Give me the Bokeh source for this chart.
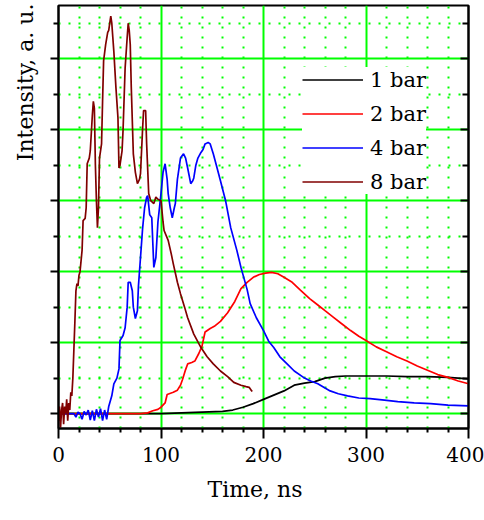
from bokeh.plotting import figure
from bokeh.models import (Range1d, FixedTicker, LinearAxis, Legend, LegendItem, Title,
                          CustomJSTickFormatter)
from bokeh.embed import file_html
from bokeh.resources import INLINE

# ---------------- data ----------------
x_ticks = [0, 100, 200, 300, 400]
x_minor = [v for v in range(0, 401, 20) if v % 100 != 0]
y_ticks = [0, 1, 2, 3, 4, 5]
y_minor = [0.5, 1.5, 2.5, 3.5, 4.5, 5.5]

series_names = ["1 bar", "2 bar", "4 bar", "8 bar"]
series_colors = ["#000000", "#FF0000", "#0000FF", "#800000"]

t_1bar = [0, 100, 120, 140, 160, 170, 180, 190, 200, 210, 220, 230, 240, 250,
          260, 270, 280, 300, 320, 340, 360, 380, 390, 400]
i_1bar = [0, 0, 0.01, 0.02, 0.03, 0.05, 0.09, 0.14, 0.20, 0.26, 0.32, 0.40, 0.43, 0.45,
          0.50, 0.52, 0.53, 0.53, 0.53, 0.52, 0.52, 0.51, 0.50, 0.49]

t_2bar = [0, 60, 80, 87, 92, 97, 100, 104, 106, 112, 116, 119, 121, 124, 126, 130, 133,
          137, 140, 143, 148, 152, 158, 165, 172, 178, 184, 190, 196, 202, 208, 214, 220,
          228, 236, 245, 253, 260, 268, 276, 285, 293, 300, 310, 320, 330, 340, 350, 360,
          370, 380, 390, 400]
i_2bar = [0, 0, 0, 0.01, 0.04, 0.06, 0.09, 0.15, 0.27, 0.30, 0.33, 0.40, 0.48, 0.62, 0.70,
          0.72, 0.74, 0.85, 0.95, 1.15, 1.20, 1.23, 1.30, 1.42, 1.58, 1.76, 1.85, 1.92, 1.96,
          1.98, 1.99, 1.97, 1.92, 1.85, 1.74, 1.62, 1.53, 1.45, 1.36, 1.27, 1.17, 1.09, 1.03,
          0.94, 0.87, 0.80, 0.74, 0.67, 0.61, 0.55, 0.51, 0.46, 0.42]

t_4bar = [0, 15, 17, 19, 21, 23, 25, 27, 29, 31, 33, 35, 37, 39, 41, 43, 45, 47, 49,
          52, 54, 57, 59, 60, 63, 65, 67, 68, 70, 72, 73, 75, 77, 78, 80, 82, 84, 86, 87,
          89, 91, 93, 95, 97, 100, 102, 104, 106, 107, 109, 111, 113, 114, 116, 119, 122,
          124, 126, 129, 131, 132, 134, 136, 139, 141, 143, 146, 148, 151, 154, 158, 163,
          168, 174, 178, 184, 187, 193, 200, 205, 210, 216, 223, 230, 239, 246, 253, 260,
          265, 273, 282, 293, 304, 318, 331, 347, 363, 380, 400]
i_4bar = [0, 0, -0.05, 0.02, 0, -0.08, 0.03, -0.02, 0.05, -0.09, 0.04, -0.10, 0.06, -0.05,
          0.07, -0.10, 0.05, -0.08, 0.10,
          0.25, 0.42, 0.50, 0.63, 1.03, 1.10, 1.21, 1.50, 1.85, 1.85, 1.73, 1.50, 1.34, 1.45,
          1.80, 2.20, 2.60, 2.90, 3.05, 3.07, 2.80, 2.76, 2.06, 2.20, 2.70, 3.10, 3.40, 3.52,
          3.30, 3.10, 2.90, 2.76, 2.90, 2.96, 3.30, 3.60, 3.66, 3.60, 3.46, 3.24, 3.28, 3.32,
          3.50, 3.60, 3.68, 3.72, 3.80, 3.82, 3.80, 3.66, 3.50, 3.28, 3.00, 2.62, 2.30, 2.06,
          1.75, 1.55, 1.35, 1.17, 1.02, 0.93, 0.80, 0.70, 0.60, 0.51, 0.46, 0.42, 0.36, 0.32,
          0.28, 0.25, 0.22, 0.21, 0.19, 0.17, 0.15, 0.14, 0.12, 0.11]

t_8bar = [0, 1, 2, 3, 4, 5, 6, 7, 8, 9, 10, 11, 12, 13, 14, 15, 16, 17, 18, 19, 20, 21,
          23, 24, 26, 27, 28, 30, 31, 33, 34, 35, 36, 37, 38, 39, 40, 42, 43, 44, 46, 48,
          49, 51, 52, 53, 54, 56, 58, 59, 60, 62, 63, 65, 67, 68, 69, 70, 71, 73, 75, 77,
          79, 80, 82, 83, 85, 86, 88, 90, 93, 95, 97, 100, 102, 103, 107, 110, 112, 116,
          119, 123, 126, 132, 139, 145, 151, 158, 165, 171, 178, 183, 186, 188, 189]
i_8bar = [-0.10, 0.10, -0.20, 0.05, 0.15, -0.15, 0.10, 0.0, 0.20, -0.10, 0.15, 0.05, 0.30,
          0.25, 0.50, 0.90, 1.30, 1.73, 1.83, 1.80, 1.95, 2.00,
          2.30, 2.72, 2.75, 2.90, 3.52, 3.60, 3.70, 4.20, 4.40, 4.30, 3.50, 3.00, 2.62, 2.90,
          3.60, 3.80, 4.40, 4.97, 5.20, 5.37, 5.40, 5.60, 5.50, 5.30, 5.10, 4.60, 4.17, 3.46,
          3.50, 3.70, 4.00, 4.87, 5.30, 5.50, 5.40, 5.20, 4.60, 3.66, 3.40, 3.24, 3.30, 3.38,
          4.00, 4.27, 4.27, 3.80, 3.10, 3.00, 2.96, 3.05, 3.02, 3.00, 2.70, 2.58, 2.44, 2.25,
          2.11, 1.85, 1.69, 1.50, 1.35, 1.12, 0.93, 0.80, 0.70, 0.60, 0.52, 0.44, 0.40, 0.38,
          0.37, 0.33, 0.31]

series_t = [t_1bar, t_2bar, t_4bar, t_8bar]
series_i = [i_1bar, i_2bar, i_4bar, i_8bar]

FONT = "DejaVu Serif"
GREEN = "#00FF00"

p = figure(width=484, height=520, output_backend="svg", toolbar_location=None,
           x_range=Range1d(0, 400), y_range=Range1d(-0.21, 5.75),
           min_border_left=58, min_border_right=16, min_border_top=5,
           min_border_bottom=92, background_fill_color="white",
           border_fill_color="white")

p.outline_line_color = "black"
p.outline_line_width = 2

xt = FixedTicker(ticks=x_ticks, minor_ticks=x_minor)
yt = FixedTicker(ticks=y_ticks, minor_ticks=y_minor)
blank = CustomJSTickFormatter(code="return '';")

# bottom axis
xa = p.xaxis[0]
xa.ticker = xt
xa.axis_line_color = "black"
xa.axis_line_width = 2
xa.major_tick_in = 0
xa.major_tick_out = 10
xa.minor_tick_in = 0
xa.minor_tick_out = 4
xa.major_tick_line_width = 2
xa.minor_tick_line_width = 2
xa.major_label_text_font = FONT
xa.major_label_text_font_size = "20px"
xa.major_label_text_color = "black"
xa.major_label_standoff = 8

# left axis (ticks only)
ya = p.yaxis[0]
ya.ticker = yt
ya.formatter = blank
ya.axis_line_color = "black"
ya.axis_line_width = 2
ya.major_tick_in = 0
ya.major_tick_out = 8
ya.minor_tick_in = 0
ya.minor_tick_out = 5
ya.major_tick_line_width = 2
ya.minor_tick_line_width = 2
ya.major_label_standoff = 0

# right axis (inward ticks)
ra = LinearAxis(ticker=yt, formatter=blank, axis_line_color="black", axis_line_width=2,
                major_tick_in=8, major_tick_out=0, minor_tick_in=6, minor_tick_out=0,
                major_tick_line_width=2, minor_tick_line_width=2,
                major_label_standoff=0)
p.add_layout(ra, "right")

# grids
p.xgrid.ticker = xt
p.ygrid.ticker = yt
for g in (p.xgrid[0], p.ygrid[0]):
    g.grid_line_color = GREEN
    g.grid_line_width = 2
    g.minor_grid_line_color = GREEN
    g.minor_grid_line_width = 2
    g.minor_grid_line_dash = "2 8"

items = []
for name, col, t, i in zip(series_names, series_colors, series_t, series_i):
    r = p.line(t, i, line_color=col, line_width=1.7)
    items.append(LegendItem(label=name, renderers=[r]))

legend = Legend(items=items, location=(244, 234), padding=12, spacing=9,
                label_height=25, glyph_height=25, glyph_width=61, label_standoff=7,
                margin=0, border_line_color=None, background_fill_color="white",
                background_fill_alpha=1.0, label_text_font=FONT,
                label_text_font_size="21px", label_text_color="black")
p.add_layout(legend, "center")

ytitle = Title(text="Intensity, a. u.", align="right", offset=-2, vertical_align="top",
               text_font=FONT, text_font_size="22px", text_font_style="normal",
               text_color="black", standoff=22)
p.add_layout(ytitle, "left")

xtitle = Title(text="Time, ns", align="left", offset=149, vertical_align="bottom",
               text_font=FONT, text_font_size="22px", text_font_style="normal",
               text_color="black", standoff=20)
p.add_layout(xtitle, "below")

open("out.html", "w").write(file_html(p, INLINE))
